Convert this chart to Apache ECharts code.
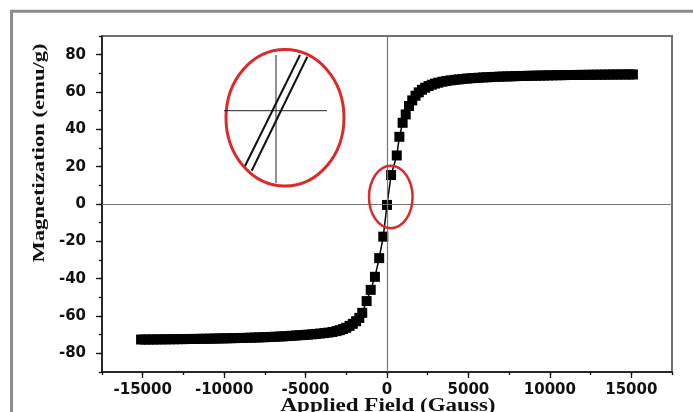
<!DOCTYPE html>
<html>
<head>
<meta charset="utf-8">
<script src="https://cdn.jsdelivr.net/npm/echarts@6/dist/echarts.min.js"></script>
<style>
html,body{margin:0;padding:0;background:#fff;}
#chart{width:693px;height:412px;}
</style>
</head>
<body>
<div id="chart"></div>
<script>
// Applied field (Gauss) and magnetization (emu/g)
const fieldNeg = [-15100,-14850,-14600,-14350,-14100,-13850,-13600,-13350,-13100,-12850,-12600,-12350,-12100,-11850,-11600,-11350,-11100,-10850,-10600,-10350,-10100,-9850,-9600,-9350,-9100,-8850,-8600,-8350,-8100,-7850,-7600,-7350,-7100,-6850,-6600,-6350,-6100,-5850,-5600,-5350,-5100,-4850,-4600,-4350,-4100,-3850,-3600,-3350,-3100,-2900,-2700,-2500,-2300,-2100,-1900,-1700,-1520,-1250,-1000,-740,-480,-230];
const magNeg   = [-72.6,-72.6,-72.6,-72.55,-72.55,-72.5,-72.5,-72.45,-72.45,-72.4,-72.4,-72.35,-72.3,-72.3,-72.25,-72.2,-72.2,-72.15,-72.1,-72.05,-72.0,-71.95,-71.9,-71.85,-71.8,-71.75,-71.7,-71.6,-71.55,-71.45,-71.4,-71.3,-71.2,-71.1,-71.0,-70.9,-70.75,-70.6,-70.45,-70.3,-70.15,-70.0,-69.8,-69.6,-69.4,-69.15,-68.9,-68.55,-68.1,-67.6,-67.0,-66.3,-65.3,-64.2,-62.8,-61.0,-58.3,-52,-46,-39,-29,-17.5];
const fieldPos = [0,250,600,760,960,1150,1350,1550,1750,1950,2150,2350,2550,2750,2950,3150,3400,3650,3900,4150,4400,4650,4900,5150,5400,5650,5900,6150,6400,6650,6900,7150,7400,7650,7900,8150,8400,8650,8900,9150,9400,9650,9900,10150,10400,10650,10900,11150,11400,11650,11900,12150,12400,12650,12900,13150,13400,13650,13900,14150,14400,14650,14900,15100];
const magPos   = [-0.5,15.5,26,36,43.5,48,52.5,55.5,58,59.8,61.2,62.3,63.2,63.9,64.5,65.0,65.5,65.9,66.25,66.5,66.75,67.0,67.2,67.35,67.5,67.65,67.8,67.9,68.0,68.1,68.2,68.3,68.35,68.4,68.5,68.55,68.6,68.65,68.7,68.75,68.8,68.85,68.9,68.95,69.0,69.0,69.05,69.1,69.1,69.15,69.15,69.2,69.2,69.25,69.25,69.3,69.3,69.35,69.35,69.35,69.4,69.4,69.4,69.4];
const xLabels = [-15000,-10000,-5000,0,5000,10000,15000];
const yLabels = [-80,-60,-40,-20,0,20,40,60,80];

const points = fieldNeg.map((h,i)=>[h,magNeg[i]]).concat(fieldPos.map((h,i)=>[h,magPos[i]]));

const chart = echarts.init(document.getElementById('chart'), null, {renderer:'canvas'});
const labelFont = {fontFamily:'DejaVu Sans', fontWeight:'bold', fontSize:15, color:'#111'};
const red = '#dc2a2a';
const plain = v => String(v);

chart.setOption({
  animation:false,
  backgroundColor:'#fff',
  grid:{left:102, top:36, right:21, bottom:40, show:true, borderColor:'#707070', borderWidth:2, backgroundColor:'transparent'},
  xAxis:[{
    type:'value', min:-17500, max:17500, interval:2500, position:'bottom',
    axisLine:{show:true, onZero:false, lineStyle:{color:'#111', width:1.5}},
    axisTick:{show:true, inside:false, length:3, lineStyle:{color:'#111', width:1.3}},
    axisLabel:Object.assign({show:true, margin:11, customValues:xLabels, formatter:plain}, labelFont),
    splitLine:{show:false}
  },{
    type:'value', min:-17500, max:17500, interval:2500, position:'bottom', gridIndex:0,
    axisLine:{show:false, onZero:false},
    axisTick:{show:true, inside:false, length:6, customValues:xLabels, lineStyle:{color:'#111', width:1.3}},
    axisLabel:{show:false},
    splitLine:{show:false}
  }],
  yAxis:[{
    type:'value', min:-90, max:90, interval:10, position:'left',
    axisLine:{show:true, onZero:false, lineStyle:{color:'#111', width:1.5}},
    axisTick:{show:true, inside:false, length:3, lineStyle:{color:'#111', width:1.3}},
    axisLabel:Object.assign({show:true, margin:16, customValues:yLabels, formatter:plain}, labelFont),
    splitLine:{show:false}
  },{
    type:'value', min:-90, max:90, interval:10, position:'left', gridIndex:0,
    axisLine:{show:false, onZero:false},
    axisTick:{show:true, inside:false, length:6, customValues:yLabels, lineStyle:{color:'#111', width:1.3}},
    axisLabel:{show:false},
    splitLine:{show:false}
  }],
  series:[{
    type:'line', data:[], z:1, silent:true,
    markLine:{
      silent:true, symbol:['none','none'], label:{show:false},
      lineStyle:{color:'#777', width:1.2, type:'solid'},
      data:[{xAxis:0},{yAxis:0}]
    }
  },{
    type:'line', data:points, z:3,
    symbol:'rect', symbolSize:10, showSymbol:true, showAllSymbol:true,
    lineStyle:{color:'#000', width:1.5},
    itemStyle:{color:'#000', borderWidth:0, opacity:1}
  }],
  graphic:[
    {type:'rect', shape:{x:11.5, y:11.3, width:720, height:440}, style:{fill:'none', stroke:'#8c8c8c', lineWidth:3}, silent:true, z:0},
    {type:'text', x:40, y:153, rotation:Math.PI/2, scaleX:1.33,
      style:{text:'Magnetization (emu/g)', font:'bold 17px "Liberation Serif"', fill:'#111', textAlign:'center', textVerticalAlign:'middle'}},
    {type:'text', x:388, y:397, scaleX:1.28,
      style:{text:'Applied Field (Gauss)', font:'bold 18px "Liberation Serif"', fill:'#111', textAlign:'center', textVerticalAlign:'top'}},
    {type:'ellipse', shape:{cx:285, cy:117.7, rx:59, ry:68.3}, style:{fill:'none', stroke:red, lineWidth:3}, z:10},
    {type:'line', shape:{x1:224, y1:110.7, x2:327, y2:110.7}, style:{stroke:'#222', lineWidth:1}, z:10},
    {type:'line', shape:{x1:276, y1:55, x2:276, y2:183}, style:{stroke:'#222', lineWidth:1}, z:10},
    {type:'line', shape:{x1:245, y1:166, x2:300, y2:55}, style:{stroke:'#111', lineWidth:2}, z:10},
    {type:'line', shape:{x1:251.7, y1:170.7, x2:307.3, y2:56.7}, style:{stroke:'#111', lineWidth:2}, z:10},
    {type:'ellipse', shape:{cx:390.8, cy:197, rx:21.8, ry:31.2}, style:{fill:'none', stroke:red, lineWidth:2.5}, z:10}
  ]
});
</script>
</body>
</html>
